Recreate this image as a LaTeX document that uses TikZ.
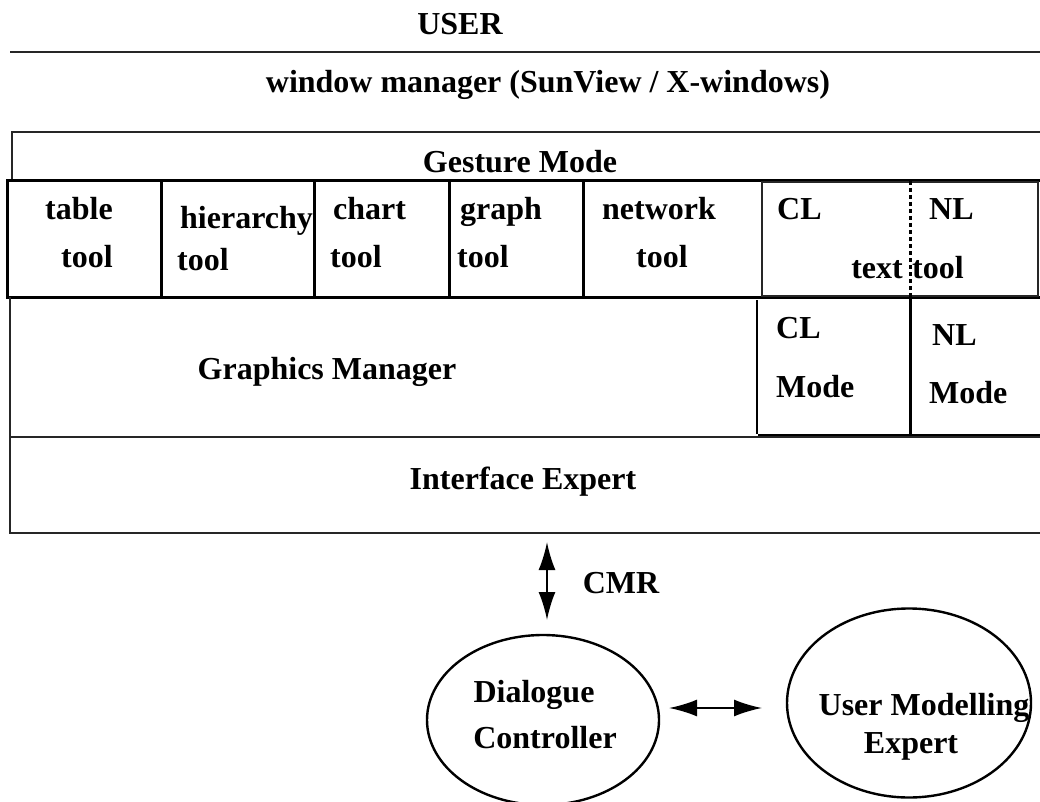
\documentclass[tikz,border=0pt]{standalone}
\usepackage{fontspec}
\setmainfont{Liberation Serif}
\usetikzlibrary{arrows.meta,shapes.geometric}
\tikzset{
  lbl/.style={font=\fontsize{32}{38}\selectfont\bfseries, inner sep=0pt, anchor=base},
  lblw/.style={lbl, anchor=base west},
  thinln/.style={line width=1.4pt, draw=black!85},
  thickln/.style={line width=3pt, draw=black},
  oval/.style={ellipse, draw, line width=2.4pt, inner sep=0pt},
  dblarrow/.style={line width=2pt, {Latex[length=28pt,width=17pt]}-{Latex[length=28pt,width=17pt]}}
}
\begin{document}
\begin{tikzpicture}[x=1pt,y=-1pt]
\useasboundingbox (0,0) rectangle (1040,802);
% top labels
\node[lbl] (user) at (460,35) {USER};
\draw[thinln] (10,52) -- (1040,52);
\node[lbl] (wm) at (548,93) {window manager (SunView / X-windows)};
% gesture mode
\draw[thinln] (12,181) -- (12,132) -- (1040,132);
\node[lbl] (gesture) at (520,173) {Gesture Mode};
% tools row
\draw[thickln] (1040,181) -- (7,181) -- (7,297) -- (1040,297);
\foreach \x in {161,314,449,583} \draw[thickln] (\x,181) -- (\x,297);
\draw[thinln] (762,182) rectangle (1038,296);
\draw[line width=3pt, dash pattern=on 4pt off 3pt] (910,181) -- (910,297);
\node[lbl] (table) at (79,220) {table};
\node[lbl] (tabletool) at (87,267) {tool};
\node[lblw] (hier) at (180,229) {hierarchy};
\node[lblw] (hiertool) at (177,270) {tool};
\node[lblw] (chart) at (333,220) {chart};
\node[lblw] (charttool) at (330,267) {tool};
\node[lblw] (graph) at (460,220) {graph};
\node[lblw] (graphtool) at (457,267) {tool};
\node[lbl] (network) at (659,220) {network};
\node[lbl] (networktool) at (662,267) {tool};
\node[lblw] (cl) at (777,220) {CL};
\node[lblw] (nl) at (929,220) {NL};
\node[lbl, anchor=base east] (text) at (903,278) {text};
\node[lblw] (texttool) at (912,278) {tool};
% graphics manager
\draw[thinln] (10,297) -- (10,437) -- (757,437);
\draw[line width=2.4pt] (757,300) -- (757,434);
\draw[thickln] (758,435) -- (1040,435);
\draw[thickln] (910,297) -- (910,434);
\node[lbl] (gm) at (327,379) {Graphics Manager};
\node[lblw] (clm1) at (776,338) {CL};
\node[lblw] (clm2) at (776,397) {Mode};
\node[lblw] (nlm1) at (932,345) {NL};
\node[lblw] (nlm2) at (929,403) {Mode};
% interface expert
\draw[thinln] (1040,437) -- (10,437) -- (10,533) -- (1040,533);
\node[lbl] (ie) at (523,489) {Interface Expert};
% lower part
\node[oval, minimum width=232pt, minimum height=170pt] (dc) at (543,720) {};
\node[oval, minimum width=244pt, minimum height=189pt] (ume) at (909,703) {};
\node[lbl] (dc1) at (534,702) {Dialogue};
\node[lbl] (dc2) at (545,748) {Controller};
\node[lbl] (ume1) at (924,715) {User Modelling};
\node[lbl] (ume2) at (911,753) {Expert};
\node[lbl] (cmr) at (621,593) {CMR};
\coordinate (cmrtop) at (547,542);
\coordinate (cmrbot) at (547,620);
\draw[dblarrow] (cmrtop) -- (cmrbot);
\coordinate (hl) at (669,708);
\coordinate (hr) at (762,708);
\draw[dblarrow] (hl) -- (hr);
\end{tikzpicture}
\end{document}
